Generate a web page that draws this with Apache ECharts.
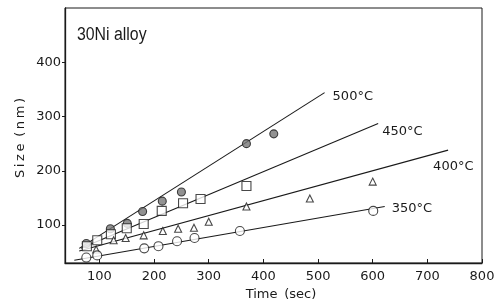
<!DOCTYPE html>
<html><head><meta charset="utf-8">
<script src="https://cdn.jsdelivr.net/npm/echarts@6/dist/echarts.min.js"></script>
<style>html,body{margin:0;padding:0;background:#fff}#c{width:499px;height:307px}</style>
</head><body><div id="c"></div>
<script>
const xTicks = [100,200,300,400,500,600,700,800];
const yTicks = [100,200,300,400];
const tempLabels = ['500°C','450°C','400°C','350°C'];
const t500 = [76,120,151,179,215,250,369,419];
const v500 = [66,93,103,125,144,161,250,268];
const t450 = [77,96,121,150,181,214,253,285,369];
const v450 = [61,72,83,94,102,126,140,148,172];
const t400 = [94,126,148,181,216,244,273,300,369,485,600];
const v400 = [55,72,76,81,89,93,95,106,134,149,180];
const t350 = [76,96,182,208,242,274,357,601];
const v350 = [40,44,57,61,70,76,89,126];
const fitT500 = [63,512], fitV500 = [57,344];
const fitT450 = [66,610], fitV450 = [57,287];
const fitT400 = [63,738], fitV400 = [52,238];
const fitT350 = [54,622], fitV350 = [35,134];

const ink = '#1a1a1a';
const zip = (a,b) => a.map((x,i)=>[x,b[i]]);
const labelOff = [[0,4],[-4,8],[-23,16],[-1,2]];
function fit(t,v,i){
  return {type:'line', data:zip(t,v), symbol:'none', silent:true,
    lineStyle:{color:ink,width:1.1}, z:2,
    endLabel:{show:true, formatter:tempLabels[i], color:ink, fontFamily:'DejaVu Sans', fontSize:13,
      offset:labelOff[i]}};
}
function pts(t,v,sym,size,fill){
  return {type:'scatter', data:zip(t,v), symbol:sym, symbolSize:size, z:3,
    itemStyle:{color:fill,borderColor:ink,borderWidth:1.1}};
}
const chart = echarts.init(document.getElementById('c'),null,{renderer:'canvas'});
chart.setOption({
  animation:false,
  grid:{left:65,right:17,top:8,bottom:44,show:true,borderColor:ink,borderWidth:1},
  xAxis:{type:'value',min:37,max:800,
    axisLine:{lineStyle:{color:ink,width:1.3}},
    axisTick:{inside:true,length:4,customValues:xTicks,lineStyle:{color:ink}},
    axisLabel:{customValues:xTicks,color:ink,fontFamily:'DejaVu Sans',fontSize:13,margin:7},
    splitLine:{show:false}},
  yAxis:{type:'value',min:30,max:500,
    axisLine:{lineStyle:{color:ink,width:1.3}},
    axisTick:{inside:false,length:3,customValues:yTicks,lineStyle:{color:ink}},
    axisLabel:{customValues:yTicks,color:ink,fontFamily:'DejaVu Sans',fontSize:13,margin:4},
    splitLine:{show:false}},
  graphic:[
    {type:'text',x:77,y:26,scaleX:0.88,style:{text:'30Ni alloy',fill:ink,
      font:'18px "Liberation Sans", sans-serif'}},
    {type:'text',x:281,y:295,style:{text:'Time\u2009 (sec)',fill:ink,align:'center',verticalAlign:'middle',
      font:'13px "DejaVu Sans", sans-serif'}},
    {type:'text',x:21,y:138,rotation:Math.PI/2,style:{text:'S\u2009i\u2009z\u2009e\u2009 (\u2009n\u2009m\u2009)',fill:ink,align:'center',verticalAlign:'middle',
      font:'13px "DejaVu Sans", sans-serif'}}
  ],
  series:[
    fit(fitT500,fitV500,0), fit(fitT450,fitV450,1), fit(fitT400,fitV400,2), fit(fitT350,fitV350,3),
    pts(t500,v500,'circle',8,'#777'),
    pts(t450,v450,'rect',9,'#fff'),
    pts(t400,v400,'triangle',7,'#fff'),
    pts(t350,v350,'circle',9,'#fff')
  ]
});
</script></body></html>
